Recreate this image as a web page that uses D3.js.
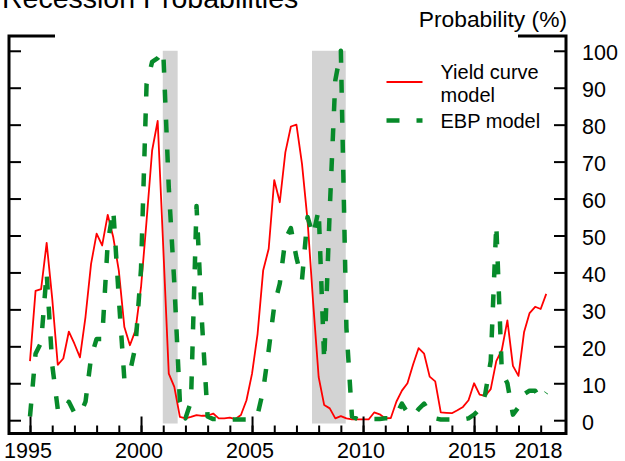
<!DOCTYPE html>
<html>
<head>
<meta charset="utf-8">
<script src="https://cdn.jsdelivr.net/npm/d3@7"></script>
<style>
  html, body { margin: 0; padding: 0; background: #fff; }
  svg { display: block; font-family: "Liberation Sans", Arial, Helvetica, sans-serif; }
</style>
</head>
<body>
<svg id="chart" width="625" height="461"></svg>
<script>
// Quarterly recession probabilities, first observation 1995:Q1
const firstQuarter = 1995;

// Yield curve model (%)
const yieldCurve = [
  16, 35, 35.5, 48, 33, 15, 16.7, 24, 20.7, 17,
  28, 42.3, 50.5, 47.3, 55.6, 49.5, 40.5, 25.2, 20.3, 24.3,
  36, 54, 73, 81, 47, 12.6, 9, 0.9, 0.5, 0.9,
  1.4, 1.2, 1.2, 1.8, 0.5, 0.5, 0.7, 0.3, 1.4, 5.4,
  12.6, 23.4, 40.5, 46.4, 65, 59, 72.5, 79.5, 80, 69.4,
  54.1, 32, 11.7, 4.1, 3.2, 0.5, 1.1, 0.5, 0.2, 0.2,
  0.2, 0.2, 2.1, 1.6, 0.5, 0.6, 5, 8, 10, 15,
  19.5, 18, 11.8, 10.5, 2.1, 2, 1.9, 2.7, 3.6, 5.4,
  10, 6.9, 6.6, 8.4, 16, 19, 27, 14.7, 12, 23.8,
  29, 30.7, 30.1, 34.2
];

// Excess bond premium model (%)
const ebp = [
  1, 18, 21, 40, 15, 3, 2, 5, 2, 1.5,
  5, 17, 22, 22, 48, 57, 33, 11, 13, 20,
  41, 91, 97, 98, 100, 63, 37, 5, 0.5, 5,
  58, 26, 1, 0.3, 0.3, 0.3, 0.2, 0.2, 0.2, 0.2,
  0.3, 1.5, 8, 19, 31, 37, 49, 52, 44, 38,
  55, 50, 57, 16, 57, 92, 100, 25, 1, 0.3,
  0.3, 0.3, 0.3, 0.3, 0.5, 0.5, 1.5, 4.5, 2, 1,
  3, 4.5, 2, 0.5, 0.2, 0.2, 0.2, 0.2, 0.2, 0.5,
  1.5, 3, 7, 16, 53, 13, 10, 1.5, 3.5, 7,
  8, 8, 5.5, 7.5
];

// NBER recessions (start, end) in decimal years
const recessionStart = [2000.98, 2007.70];
const recessionEnd   = [2001.65, 2009.22];

const yTicks = d3.range(0, 101, 10);
const yearTicks = d3.range(1995, 2019);
const majorYears = [1995, 2000, 2005, 2010, 2015];
const labelYears = [1995, 2000, 2005, 2010, 2015, 2018];
const legendLabels = [["Yield curve", "model"], ["EBP model"]];

const RED = "#ff0000";
const GREEN = "#078a2a";
const SHADE = "#d3d3d3";

// Plot frame
const frameLeft = 9, frameRight = 566, frameTop = 36, frameBottom = 433.5;

const x = d3.scaleLinear().domain([1994.054, 2019.14]).range([frameLeft, frameRight]);
const y = d3.scaleLinear().domain([-3.6, 104]).range([frameBottom, frameTop]);

const svg = d3.select("#chart");

// Recession shading
svg.append("g").selectAll("rect")
  .data(recessionStart.map((s, i) => [s, recessionEnd[i]]))
  .join("rect")
  .attr("x", d => x(d[0]))
  .attr("width", d => x(d[1]) - x(d[0]))
  .attr("y", y(100))
  .attr("height", y(-0.9) - y(100))
  .attr("fill", SHADE);

const quarterX = (d, i) => x(firstQuarter + i / 4);
const line = d3.line().x(quarterX).y(d => y(d));

svg.append("path")
  .datum(yieldCurve)
  .attr("d", line)
  .attr("fill", "none")
  .attr("stroke", RED)
  .attr("stroke-width", 1.8)
  .attr("stroke-linejoin", "round");

svg.append("path")
  .datum(ebp)
  .attr("d", line)
  .attr("fill", "none")
  .attr("stroke", GREEN)
  .attr("stroke-width", 4.5)
  .attr("stroke-dasharray", "13,17")
  .attr("stroke-linejoin", "round");

// Axes
const axisFont = 21.5;

// left: ticks only
svg.append("g")
  .attr("transform", `translate(${frameLeft},0)`)
  .call(d3.axisLeft(y).tickValues(yTicks).tickSize(-12).tickFormat(""))
  .call(g => g.select(".domain").remove())
  .call(g => g.selectAll("line").attr("stroke", "#000").attr("stroke-width", 2));

// right: ticks and labels
svg.append("g")
  .attr("transform", `translate(${frameRight},0)`)
  .call(d3.axisRight(y).tickValues(yTicks).tickSize(-12).tickPadding(16))
  .call(g => g.select(".domain").remove())
  .call(g => g.selectAll("line").attr("stroke", "#000").attr("stroke-width", 2))
  .call(g => g.selectAll("text")
    .attr("font-size", axisFont)
    .attr("font-family", "Liberation Sans, Arial, sans-serif")
    .attr("fill", "#000")
    .attr("dy", "0.42em"));

// bottom: minor ticks
svg.append("g")
  .attr("transform", `translate(0,${frameBottom})`)
  .call(d3.axisBottom(x).tickValues(yearTicks).tickSize(-8).tickFormat(""))
  .call(g => g.select(".domain").remove())
  .call(g => g.selectAll("line").attr("stroke", "#000").attr("stroke-width", 2));

// bottom: major ticks
svg.append("g")
  .attr("transform", `translate(0,${frameBottom})`)
  .call(d3.axisBottom(x).tickValues(majorYears).tickSize(-17).tickFormat(""))
  .call(g => g.select(".domain").remove())
  .call(g => g.selectAll("line").attr("stroke", "#000").attr("stroke-width", 2));

// bottom: year labels
svg.append("g")
  .attr("transform", `translate(0,${frameBottom})`)
  .call(d3.axisBottom(x).tickValues(labelYears).tickSize(0).tickPadding(9.5).tickFormat(d3.format("d")))
  .call(g => g.select(".domain").remove())
  .call(g => g.selectAll("text")
    .attr("font-size", axisFont)
    .attr("font-family", "Liberation Sans, Arial, sans-serif")
    .attr("fill", "#000")
    .attr("dx", "-0.12em"));

// Frame lines (open corners at the top)
const frame = svg.append("g").attr("fill", "none").attr("stroke", "#000").attr("stroke-width", 3);
frame.append("path").attr("d", `M55,${frameTop}H${frameLeft}V${frameBottom}H${frameRight}V${frameTop}H518`);

// Titles
svg.append("text")
  .attr("x", 2).attr("y", 8)
  .attr("font-size", 28.5)
  .attr("fill", "#000")
  .text("Recession Probabilities");

svg.append("text")
  .attr("x", 567).attr("y", 27)
  .attr("text-anchor", "end")
  .attr("font-size", 22.8)
  .attr("fill", "#000")
  .text("Probability (%)");

// Legend
const legend = svg.append("g");
legend.append("line")
  .attr("x1", 386.5).attr("x2", 422.5).attr("y1", 82).attr("y2", 82)
  .attr("stroke", RED).attr("stroke-width", 1.8);
legend.append("line")
  .attr("x1", 386.5).attr("x2", 422.5).attr("y1", 120.5).attr("y2", 120.5)
  .attr("stroke", GREEN).attr("stroke-width", 4.5).attr("stroke-dasharray", "13,17");

const legendText = legend.append("g").attr("font-size", 20).attr("fill", "#000");
legendText.append("text").attr("x", 440.5).attr("y", 78.5)
  .selectAll("tspan").data(legendLabels[0]).join("tspan")
  .attr("x", 440.5).attr("dy", (d, i) => i === 0 ? 0 : 23.5).text(d => d);
legendText.append("text").attr("x", 440.5).attr("y", 127.5).text(legendLabels[1][0]);
</script>
</body>
</html>
